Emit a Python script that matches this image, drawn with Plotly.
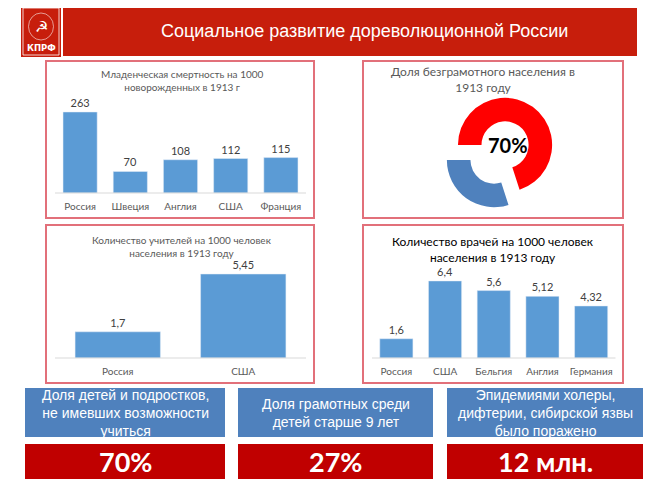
import plotly.graph_objects as go

# reference canvas size; the page body adds an 8px offset, so the figure is drawn 8px smaller
W, H = 669, 489
OFF = 8
FW, FH = W - OFF, H - OFF

# ---------------- data ----------------
title_main = "Социальное развитие дореволюционной России"

infant_title = "Младенческая смертность на 1000<br>новорожденных в 1913 г"
infant_countries = ["Россия", "Швеция", "Англия", "США", "Франция"]
infant_values = [263, 70, 108, 112, 115]

illit_title = "Доля безграмотного населения в<br>1913 году"
illit_labels = ["Безграмотные", "Грамотные"]
illit_values = [70, 30]
illit_center_text = "70%"

teacher_title = "Количество учителей на 1000 человек<br>населения в 1913 году"
teacher_countries = ["Россия", "США"]
teacher_values = [1.7, 5.45]

doctor_title = "Количество врачей на 1000 человек<br>населения в 1913 году"
doctor_countries = ["Россия", "США", "Бельгия", "Англия", "Германия"]
doctor_values = [1.6, 6.4, 5.6, 5.12, 4.32]

stat_captions = [
    "Доля детей и подростков,<br>не имевших возможности<br>учиться",
    "Доля грамотных среди<br>детей старше 9 лет",
    "Эпидемиями холеры,<br>дифтерии, сибирской язвы<br>было поражено",
]
stat_values = ["70%", "27%", "12 млн."]

# ---------------- helpers ----------------
def px(x):
    return (x - OFF) / FW

def py(y):
    return 1 - (y - OFF) / FH

def fmt(v):
    return str(v).replace(".", ",")

BAR = "#5B9BD5"
GRAY = "#595959"
BORDER = "#E2707A"
FONT = "Lato, 'Open Sans', sans-serif"

fig = go.Figure()

# Panel 1: infant mortality
fig.add_trace(go.Bar(
    x=infant_countries, y=infant_values, marker_color=BAR,
    text=[fmt(v) for v in infant_values], textposition="outside",
    textfont=dict(size=11, color="#404040", family=FONT),
    cliponaxis=False, xaxis="x", yaxis="y", width=0.68, hoverinfo="skip"))

# Panel 3: teachers
fig.add_trace(go.Bar(
    x=teacher_countries, y=teacher_values, marker_color=BAR,
    text=[fmt(v) for v in teacher_values], textposition="outside",
    textfont=dict(size=11, color="#404040", family=FONT),
    cliponaxis=False, xaxis="x2", yaxis="y2", width=0.68, hoverinfo="skip"))

# Panel 4: doctors
fig.add_trace(go.Bar(
    x=doctor_countries, y=doctor_values, marker_color=BAR,
    text=[fmt(v) for v in doctor_values], textposition="outside",
    textfont=dict(size=11, color="#404040", family=FONT),
    cliponaxis=False, xaxis="x3", yaxis="y3", width=0.68, hoverinfo="skip"))

# Panel 2: illiteracy donut
fig.add_trace(go.Pie(
    labels=illit_labels, values=illit_values, hole=0.5,
    marker=dict(colors=["#FF0000", "#4F81BD"], line=dict(width=0)),
    direction="clockwise", rotation=270, sort=False, pull=[0.2, 0.2],
    textinfo="none", showlegend=False, hoverinfo="skip",
    domain=dict(x=[px(443), px(556)], y=[py(209), py(96)])))

xcommon = dict(showgrid=False, zeroline=False, showline=False, ticks="outside",
               tickcolor="rgba(0,0,0,0)", ticklen=4,
               tickfont=dict(size=10, color=GRAY, family=FONT), fixedrange=True)
ycommon = dict(showgrid=False, zeroline=False, showline=False, showticklabels=False,
               fixedrange=True)

fig.update_layout(
    width=FW, height=FH, margin=dict(l=0, r=0, t=0, b=0),
    paper_bgcolor="white", plot_bgcolor="rgba(0,0,0,0)", showlegend=False,
    xaxis=dict(domain=[px(55), px(306)], anchor="y", **xcommon),
    yaxis=dict(domain=[py(193), py(100)], anchor="x", range=[0, 302], **ycommon),
    xaxis2=dict(domain=[px(55), px(306)], anchor="y2", **xcommon),
    yaxis2=dict(domain=[py(358), py(262)], anchor="x2", range=[0, 6.23], **ycommon),
    xaxis3=dict(domain=[px(372), px(615.5)], anchor="y3", **xcommon),
    yaxis3=dict(domain=[py(358), py(270)], anchor="x3", range=[0, 7.31], **ycommon),
)

shapes = []
annotations = []

def rect(x0, y0, x1, y1, fill=None, line=None, lw=0):
    shapes.append(dict(type="rect", xref="paper", yref="paper",
                       x0=px(x0), x1=px(x1), y0=py(y1), y1=py(y0),
                       fillcolor=fill if fill else "rgba(0,0,0,0)",
                       line=dict(color=line if line else "rgba(0,0,0,0)", width=lw),
                       layer="below"))

def text(x, y, s, size, color, family=FONT, bold=False):
    if bold:
        s = "<b>" + s + "</b>"
    annotations.append(dict(xref="paper", yref="paper", x=px(x), y=py(y), text=s,
                            showarrow=False, xanchor="center", yanchor="middle",
                            font=dict(size=size, color=color, family=family)))

# header
rect(21, 6, 61, 57, fill="#C71E0C")
rect(23, 8, 59, 55, line="rgba(255,255,255,0.8)", lw=1)
shapes.append(dict(type="circle", xref="paper", yref="paper",
                   x0=px(28.5), x1=px(53.5), y0=py(40), y1=py(13),
                   line=dict(color="rgba(255,255,255,0.7)", width=0.8)))
text(41, 27, "☭", 15, "white", family="DejaVu Sans")
text(41, 47.5, "КПРФ", 8.5, "white", family="'DejaVu Sans'", bold=True)
rect(63, 6, 637, 56, fill="#C71E0C")
text(364, 31, title_main, 18, "white", family="'Liberation Sans', Arial, sans-serif")

# panel borders
rect(46, 61, 314, 218, line=BORDER, lw=2)
rect(363, 61, 623, 218, line=BORDER, lw=2)
rect(46, 225, 314, 383, line=BORDER, lw=2)
rect(363, 225, 623, 383, line=BORDER, lw=2)

# baselines
for (x0, x1, yb) in [(55, 306, 193), (55, 306, 358), (372, 615.5, 358)]:
    shapes.append(dict(type="line", xref="paper", yref="paper", x0=px(x0), x1=px(x1),
                       y0=py(yb), y1=py(yb), line=dict(color="#D9D9D9", width=1)))

# chart titles
text(182, 81, infant_title, 10, GRAY)
text(182, 246, teacher_title, 10, GRAY)
text(493, 249, doctor_title, 12, "black")
text(483, 79, illit_title, 12, GRAY)
text(508, 145, illit_center_text, 20, "black", bold=True)

# bottom stat boxes
boxes = [(25, 225), (238, 433), (447, 643)]
for (x0, x1), cap, val in zip(boxes, stat_captions, stat_values):
    rect(x0, 388, x1, 437, fill="#4F81BD")
    rect(x0, 444, x1, 479, fill="#C00000")
    text((x0 + x1) / 2, 412.5, cap, 14, "white",
         family="'Liberation Sans Narrow', 'Liberation Sans', Arial, sans-serif")
    text((x0 + x1) / 2, 461.5, val, 27, "white", bold=True)

fig.update_layout(shapes=shapes, annotations=annotations)

fig.write_html("out.html", config={"displayModeBar": False})
